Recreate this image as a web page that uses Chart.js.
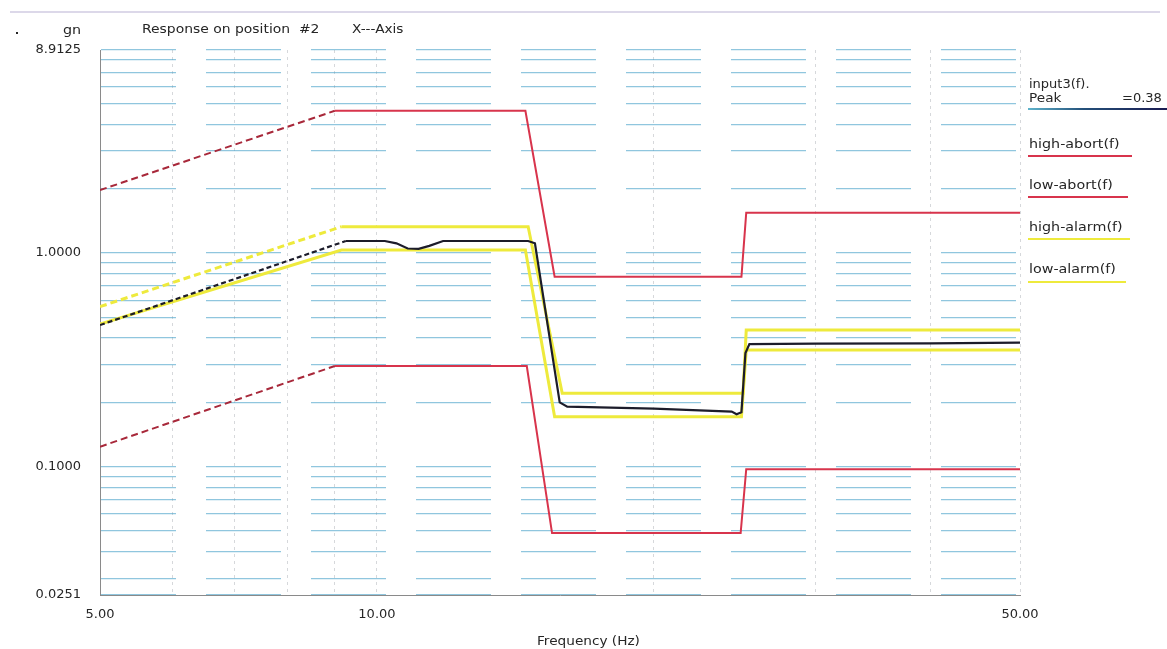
<!DOCTYPE html>
<html>
<head>
<meta charset="utf-8">
<script src="https://cdn.jsdelivr.net/npm/chart.js@4.4.1/dist/chart.umd.min.js"></script>
<style>
html, body { margin: 0; padding: 0; background: #fff; }
#wrap { width: 1167px; height: 649px; }
</style>
</head>
<body>
<div id="wrap"><canvas id="responseChart" width="1167" height="649"></canvas></div>
<script>
// data (gn vs Hz, log/log)
const respFreq = [5, 9.25, 10.2, 10.5, 10.8, 11.1, 11.4, 11.8, 14.6, 14.85, 15.8, 16.1, 20, 24.3, 24.6, 24.9, 25.15, 25.4, 30, 40, 50];
const respGn   = [0.46, 1.138, 1.138, 1.11, 1.05, 1.045, 1.08, 1.138, 1.138, 1.11, 0.2, 0.191, 0.187, 0.181, 0.176, 0.18, 0.34, 0.375, 0.377, 0.378, 0.381];

const highAbortFreq = [5, 9.0, 14.5, 15.6, 24.9, 25.2, 50];
const highAbortGn   = [1.97, 4.63, 4.63, 0.775, 0.775, 1.545, 1.545];
const lowAbortFreq  = [5, 9.0, 14.55, 15.5, 24.85, 25.2, 50];
const lowAbortGn    = [0.124, 0.296, 0.296, 0.0489, 0.0489, 0.0973, 0.0973];

const highAlarmFreq = [5, 9.15, 14.6, 15.9, 25.0, 25.2, 50];
const highAlarmGn   = [0.561, 1.328, 1.328, 0.2205, 0.2205, 0.436, 0.436];
const lowAlarmFreq  = [5, 9.15, 14.5, 15.6, 24.9, 25.2, 50];
const lowAlarmGn    = [0.465, 1.033, 1.033, 0.1714, 0.1714, 0.3517, 0.3517];

const xGrid   = [5, 6, 7, 8, 9, 10, 20, 30, 40, 50];
const xLabels = [5, 10, 50];
const yGrid   = [0.0251, 0.03, 0.04, 0.05, 0.06, 0.07, 0.08, 0.09, 0.1, 0.2, 0.3, 0.4, 0.5, 0.6, 0.7, 0.8, 0.9, 1, 2, 3, 4, 5, 6, 7, 8, 8.9125];
const yLabels = [0.0251, 0.1, 1, 8.9125];

const legendItems = [
    {text: 'high-abort(f)', y: 145, line: 156, end: 1132, color: '#d8344c'},
    {text: 'low-abort(f)',  y: 186, line: 197, end: 1128, color: '#d8344c'},
    {text: 'high-alarm(f)', y: 228, line: 239, end: 1130, color: '#eeea3c'},
    {text: 'low-alarm(f)',  y: 270, line: 282, end: 1126, color: '#eeea3c'},
];

const FONT = '"DejaVu Sans", sans-serif';
const TEXT = '#262626';

const toPoints = (xs, ys) => xs.map((x, i) => ({x: x, y: ys[i]}));
const ramp = (dash) => (c) => c.p1.parsed.x <= 9.3 ? dash : undefined;

const stretchText = (ctx, txt, x, y, sx) => {
    ctx.save();
    ctx.translate(x, y);
    ctx.scale(sx, 1);
    ctx.fillText(txt, 0, 0);
    ctx.restore();
}

const decorations = {
    id: 'decorations',
    afterDraw(chart) {
        const ctx = chart.ctx;
        ctx.save();
        ctx.fillStyle = TEXT;
        ctx.font = '13px ' + FONT;
        ctx.textBaseline = 'middle';
        ctx.textAlign = 'left';

        // header
        stretchText(ctx, 'gn', 63, 31, 1.1);
        stretchText(ctx, 'Response on position  #2', 142, 30, 1.07);
        stretchText(ctx, 'X---Axis', 352, 30, 1.05);
        ctx.fillRect(16, 32, 2, 2);

        // x axis title
        stretchText(ctx, 'Frequency (Hz)', 537, 642, 1.05);

        // legend
        stretchText(ctx, 'input3(f).', 1029, 85, 1.0);
        stretchText(ctx, 'Peak', 1029, 99, 1.05);
        stretchText(ctx, '=0.38', 1122, 99, 1.0);
        const g = ctx.createLinearGradient(1028, 0, 1167, 0);
        g.addColorStop(0, '#5fb4cc');
        g.addColorStop(0.4, '#24507a');
        g.addColorStop(1, '#1a1a50');
        ctx.strokeStyle = g;
        ctx.lineWidth = 2;
        ctx.beginPath();
        ctx.moveTo(1028, 109);
        ctx.lineTo(1167, 109);
        ctx.stroke();

        legendItems.forEach(item => {
            ctx.fillStyle = TEXT;
            stretchText(ctx, item.text, 1029, item.y, 1.1);
            ctx.strokeStyle = item.color;
            ctx.lineWidth = 2;
            ctx.beginPath();
            ctx.moveTo(1028, item.line);
            ctx.lineTo(item.end, item.line);
            ctx.stroke();
        });

        // faint print frame line at the top
        ctx.strokeStyle = 'rgba(150,140,190,0.45)';
        ctx.lineWidth = 1.5;
        ctx.beginPath();
        ctx.moveTo(10, 12);
        ctx.lineTo(1160, 12);
        ctx.stroke();
        ctx.restore();
    }
}

const ctx = document.getElementById('responseChart');
const responseChart = new Chart(ctx, {
    type: 'line',
    data: {
        datasets: [
            {
                label: 'input3(f)',
                data: toPoints(respFreq, respGn),
                borderColor: '#1c1c2a',
                borderWidth: 2.2,
                segment: {borderDash: ramp([5, 3])},
            },
            {
                label: 'high-abort(f)',
                data: toPoints(highAbortFreq, highAbortGn),
                borderColor: '#d8344c',
                borderWidth: 2,
                segment: {borderDash: ramp([7, 4]), borderColor: (c) => c.p1.parsed.x <= 9.3 ? '#a8283a' : undefined},
            },
            {
                label: 'low-abort(f)',
                data: toPoints(lowAbortFreq, lowAbortGn),
                borderColor: '#d8344c',
                borderWidth: 2,
                segment: {borderDash: ramp([7, 4]), borderColor: (c) => c.p1.parsed.x <= 9.3 ? '#a8283a' : undefined},
            },
            {
                label: 'high-alarm(f)',
                data: toPoints(highAlarmFreq, highAlarmGn),
                borderColor: '#eeea3c',
                borderWidth: 3,
                segment: {borderDash: ramp([7, 4])},
            },
            {
                label: 'low-alarm(f)',
                data: toPoints(lowAlarmFreq, lowAlarmGn),
                borderColor: '#eeea3c',
                borderWidth: 3,
            },
        ]
    },
    options: {
        responsive: false,
        animation: false,
        devicePixelRatio: 1,
        elements: {
            point: {radius: 0},
            line: {tension: 0}
        },
        layout: {
            padding: {top: 50, right: 147, bottom: 0, left: 0}
        },
        plugins: {
            legend: {display: false},
            tooltip: {enabled: false}
        },
        scales: {
            x: {
                type: 'logarithmic',
                min: 5,
                max: 50,
                afterFit: (s) => { s.height = 54 },
                afterBuildTicks: (s) => { s.ticks = xGrid.map(v => ({value: v})) },
                ticks: {
                    autoSkip: false,
                    maxRotation: 0,
                    padding: 12,
                    color: TEXT,
                    font: {family: FONT, size: 13},
                    callback: (v) => xLabels.includes(v) ? v.toFixed(2) : ''
                },
                grid: {color: 'rgba(120,125,135,0.3)', lineWidth: 1, drawTicks: false},
                border: {display: true, color: '#8a8a8a', width: 1, dash: [3, 4]}
            },
            y: {
                type: 'logarithmic',
                min: 0.0251,
                max: 8.9125,
                afterFit: (s) => { s.width = 100 },
                afterBuildTicks: (s) => { s.ticks = yGrid.map(v => ({value: v})) },
                ticks: {
                    autoSkip: false,
                    padding: 19,
                    color: TEXT,
                    font: {family: FONT, size: 13},
                    callback: (v) => yLabels.includes(v) ? v.toFixed(4) : ''
                },
                grid: {color: 'rgba(70,160,200,0.6)', lineWidth: 1.3, drawTicks: false},
                border: {display: true, color: '#8a8a8a', width: 1, dash: [75, 30]}
            }
        }
    },
    plugins: [decorations]
})
</script>
</body>
</html>
